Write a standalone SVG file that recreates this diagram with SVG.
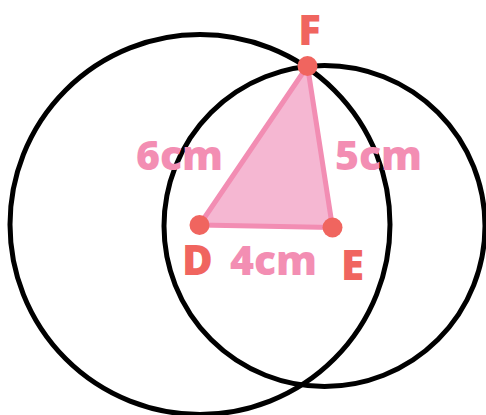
<svg xmlns="http://www.w3.org/2000/svg" width="486" height="415" viewBox="0 0 486 415">
<style>
.circ{fill:none;stroke:#000;stroke-width:5}
.edge{stroke:#f28db3;stroke-width:5;stroke-linecap:round;fill:none}
.dot{fill:#f0655f}
.vlab{fill:#f0655f;font-family:"Open Sans","Noto Sans","Liberation Sans",sans-serif;font-weight:800;font-size:42px;text-anchor:middle}
.elab{fill:#f38eb3;font-family:"Open Sans","Noto Sans","Liberation Sans",sans-serif;font-weight:800;font-size:41px;text-anchor:middle}
</style>
<rect width="486" height="415" fill="#fff"/>
<g id="circles">
<circle class="circ" cx="200" cy="224.5" r="190"/>
<circle class="circ" cx="324.5" cy="226" r="160.5"/>
</g>
<g id="triangle">
<polygon points="199.5,225 307.5,66 332.5,227.5" fill="#f5b7d2"/>
</g>
<g id="connectors">
<line class="edge" x1="199.5" y1="225" x2="307.5" y2="66"/>
<line class="edge" x1="307.5" y1="66" x2="332.5" y2="227.5"/>
<line class="edge" x1="199.5" y1="225" x2="332.5" y2="227.5"/>
<text class="elab" x="179.5" y="170">6cm</text>
<text class="elab" x="378.5" y="170">5cm</text>
<text class="elab" x="273.5" y="275">4cm</text>
</g>
<g id="node-D">
<circle class="dot" cx="199.5" cy="225" r="10"/>
<text class="vlab" x="197.5" y="275">D</text>
</g>
<g id="node-E">
<circle class="dot" cx="332.5" cy="227.5" r="10"/>
<text class="vlab" x="352.5" y="280">E</text>
</g>
<g id="node-F">
<circle class="dot" cx="307.5" cy="66" r="10"/>
<text class="vlab" x="309.5" y="44.5">F</text>
</g>
</svg>
